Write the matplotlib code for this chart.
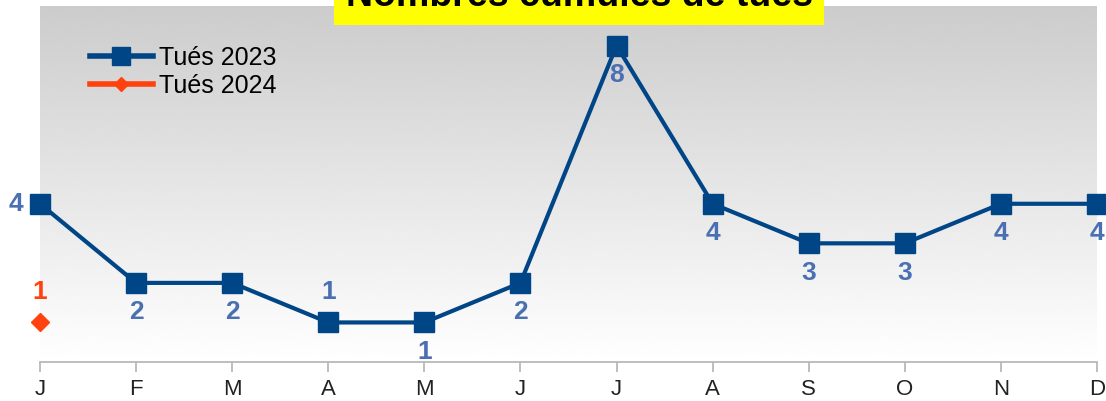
import matplotlib
matplotlib.use("Agg")
import matplotlib.pyplot as plt
from matplotlib.lines import Line2D
import numpy as np

plt.rcParams['font.family'] = ['Liberation Sans', 'DejaVu Sans']

months = ['J', 'F', 'M', 'A', 'M', 'J', 'J', 'A', 'S', 'O', 'N', 'D']
tues_2023 = [4, 2, 2, 1, 1, 2, 8, 4, 3, 3, 4, 4]
tues_2024 = [1]
label_pos_2023 = ['left', 'below', 'below', 'above', 'below', 'below',
                  'below', 'below', 'below', 'below', 'below', 'below']
title = 'Nombres cumulés de tués'
series_names = ['Tués 2023', 'Tués 2024']

c23 = '#004586'
c24 = '#ff420e'
lab23 = '#4a70b3'

W, H = 1106, 401
fig = plt.figure(figsize=(W / 100, H / 100), dpi=100)
ax = fig.add_axes([40 / W, 1 - 362 / H, (1097 - 40) / W, (362 - 6) / H])

x = np.arange(len(months))
n = len(months) - 1

# gradient background: grey at top, white at bottom
grad = np.linspace(1.0, 0.8, 256).reshape(-1, 1)
ax.imshow(grad, cmap='gray', vmin=0, vmax=1, aspect='auto', origin='lower',
          extent=[0, n, 0, 9], zorder=0, interpolation='bicubic')
ax.set_xlim(0, n)
ax.set_ylim(0, 9)

ax.plot(x, tues_2023, color=c23, lw=3, marker='s', ms=14, zorder=3, clip_on=False)
ax.plot(x[:len(tues_2024)], tues_2024, color=c24, lw=3, marker='D', ms=9,
        zorder=3, clip_on=False, linestyle='none')

for xi, v, p in zip(x, tues_2023, label_pos_2023):
    if p == 'left':
        off, ha = (-12, 0), 'right'
    elif p == 'above':
        off, ha = (0, 22), 'center'
    else:
        off, ha = (0, -21), 'center'
    ax.annotate(str(v), (xi, v), xytext=off, textcoords='offset points',
                ha=ha, va='center', fontsize=19, fontweight='bold',
                color=lab23, zorder=4, annotation_clip=False)
for xi, v in zip(x, tues_2024):
    ax.annotate(str(v), (xi, v), xytext=(0, 22), textcoords='offset points',
                ha='center', va='center', fontsize=19, fontweight='bold',
                color=c24, zorder=4, annotation_clip=False)

for s in ['left', 'right', 'top']:
    ax.spines[s].set_visible(False)
ax.spines['bottom'].set_color('#b3b3b3')
ax.spines['bottom'].set_linewidth(1.2)
ax.set_yticks([])
ax.set_xticks(x)
ax.set_xticklabels(months, fontsize=16, color='#222222')
ax.tick_params(axis='x', length=7, width=1.2, color='#b3b3b3', pad=5)

handles = [Line2D([], [], color=c23, lw=4, marker='s', ms=13),
           Line2D([], [], color=c24, lw=4, marker='D', ms=7)]
ax.legend(handles, series_names, loc='upper left', bbox_to_anchor=(90 / W, 1 - 46 / H),
          bbox_transform=fig.transFigure, frameon=False, fontsize=18,
          handlelength=2.5, handletextpad=0.25, labelspacing=0.15, borderpad=0,
          borderaxespad=0)

fig.text(579 / W, 1 - 6 / H, title, ha='center', va='baseline', fontsize=27,
         fontweight='bold', color='black',
         bbox=dict(boxstyle='square,pad=0.3', facecolor='#ffff00', edgecolor='none'))

fig.savefig('out.png', dpi=100)
